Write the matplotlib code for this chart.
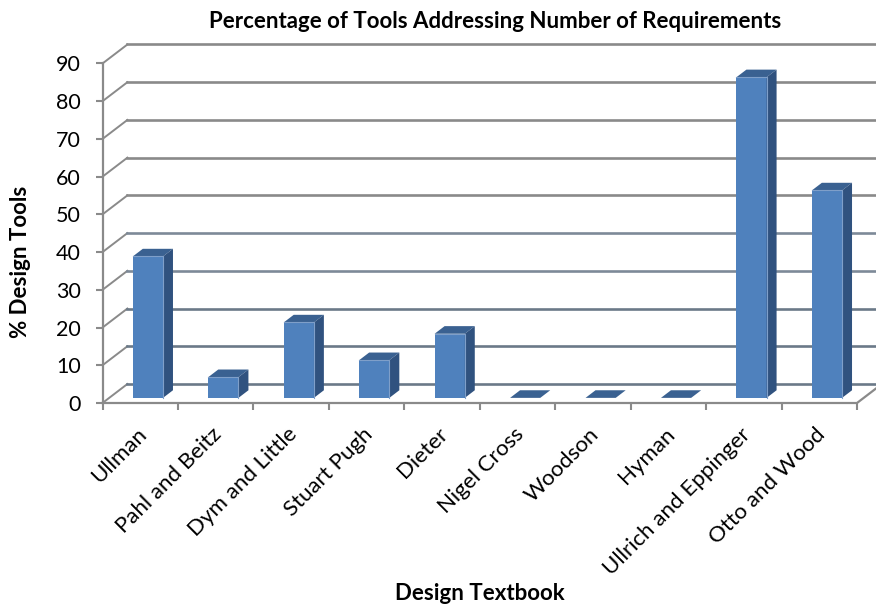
import matplotlib
matplotlib.use("Agg")
import matplotlib.pyplot as plt
from matplotlib.patches import Polygon
import numpy as np

textbooks = ["Ullman", "Pahl and Beitz", "Dym and Little", "Stuart Pugh", "Dieter",
             "Nigel Cross", "Woodson", "Hyman", "Ullrich and Eppinger", "Otto and Wood"]
percent_tools = [37.5, 5.5, 20, 10, 17, 0, 0, 0, 85, 55]
y_ticks = list(range(0, 100, 10))

plt.rcParams['font.family'] = ['Lato', 'DejaVu Sans']

# depth of the fake 3D box, in data units
depth_x = 0.33
depth_y = 5.04
# where the bars sit inside that depth
bar_front = 0.27
bar_back = 0.67
bar_width = 0.40
bar_shift = 0.013

grid_color = '#8a8a8a'
front_color = '#4f81bd'
side_color = '#30527f'
top_color = '#3a6191'
edge_color = '#7f9fc9'


def back_line_color(v):
    # lower wall lines come out a bit darker and bluer
    if v <= 20:
        return '#6b7988'
    if v <= 40:
        return '#7d8a98'
    return grid_color


W, H = 876, 608
fig = plt.figure(figsize=(W / 100, H / 100), dpi=100)
ax = fig.add_axes([102.5 / W, 1 - 403 / H, 754.5 / W, 339.5 / H])
ax.set_xlim(0, len(textbooks))
ax.set_ylim(0, 90)
for s in ax.spines.values():
    s.set_visible(False)

# back wall and left wall lines
for v in y_ticks:
    ax.plot([0, depth_x], [v, v + depth_y], color=grid_color, lw=1.4, clip_on=False, zorder=1)
    ax.plot([depth_x, len(textbooks) + depth_x], [v + depth_y, v + depth_y],
            color=back_line_color(v), lw=1.9, clip_on=False, zorder=1)

# floor and left axis
ax.plot([0, len(textbooks), len(textbooks) + depth_x], [0, 0, depth_y],
        color=grid_color, lw=1.6, clip_on=False, zorder=1)
ax.plot([0, 0], [0, 90], color=grid_color, lw=1.6, clip_on=False, zorder=1)

ax.set_yticks(y_ticks)
ax.set_xticks(np.arange(len(textbooks) + 1))
ax.set_xticklabels([])
ax.tick_params(axis='y', length=5, width=1.5, color=grid_color, labelsize=15.5, pad=10.5, labelcolor='black')
ax.tick_params(axis='x', length=5, width=1.5, color=grid_color)

# bars: front face, then side and top as parallelograms
for i, val in enumerate(percent_tools):
    left = i + 0.5 - bar_width / 2 + bar_front * depth_x + bar_shift
    right = left + bar_width
    base = bar_front * depth_y
    ax.bar(left, val, width=bar_width, bottom=base, align='edge', color=front_color, zorder=3)
    run_x = (bar_back - bar_front) * depth_x
    run_y = (bar_back - bar_front) * depth_y
    top = base + val
    ax.add_patch(Polygon([(left, top), (right, top), (right + run_x, top + run_y), (left + run_x, top + run_y)],
                         closed=True, facecolor=top_color, edgecolor='none', zorder=3))
    if val > 0:
        ax.add_patch(Polygon([(right, base), (right + run_x, base + run_y), (right + run_x, top + run_y), (right, top)],
                             closed=True, facecolor=side_color, edgecolor='none', zorder=3))
        ax.plot([left, right, right], [top, top, base], color=edge_color, lw=0.8, zorder=4)

# slanted category labels ending under each category
for i, name in enumerate(textbooks):
    ax.annotate(name, xy=(i + 0.5, 0), xycoords='data', xytext=(-4, -21), textcoords='offset pixels',
                rotation=45, rotation_mode='anchor', ha='right', va='top', fontsize=16, color='black')

fig.text(495 / W, 1 - 21 / H, "Percentage of Tools Addressing Number of Requirements",
         ha='center', va='center', fontsize=16, fontweight='bold')
fig.text(480 / W, 1 - 593 / H, "Design Textbook", ha='center', va='center', fontsize=16, fontweight='bold')
fig.text(21 / W, 1 - 262 / H, "% Design Tools", ha='center', va='center', rotation=90, fontsize=16, fontweight='bold')

fig.savefig("out.png", dpi=100)
